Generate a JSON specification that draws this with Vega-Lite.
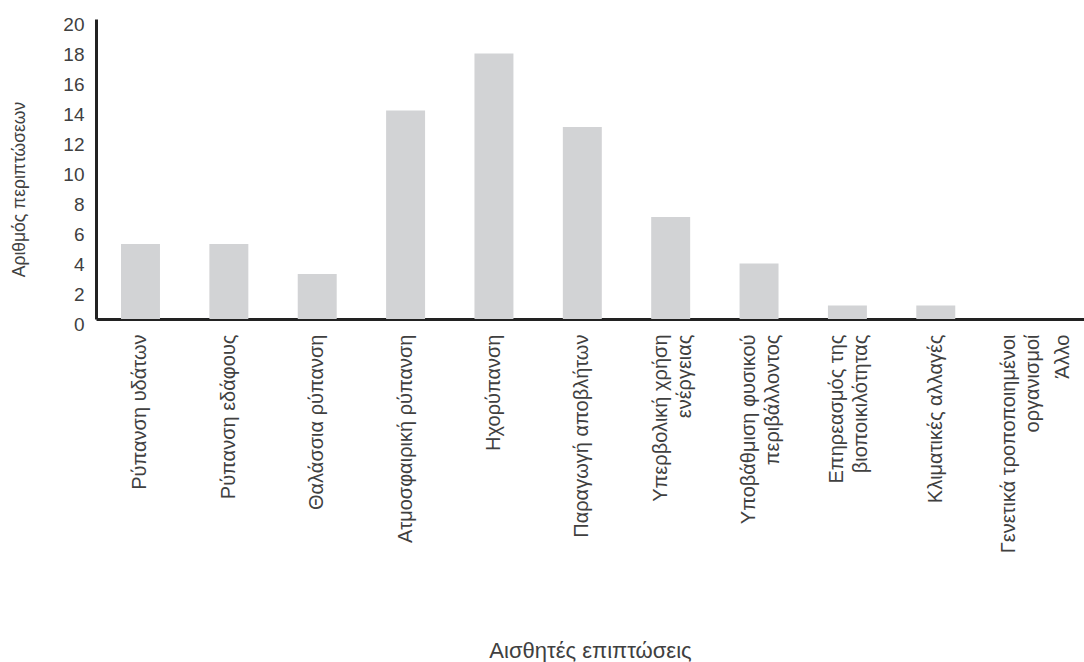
{
  "$schema": "https://vega.github.io/schema/vega-lite/v6.json",
  "autosize": {"type": "none"},
  "padding": {"left": 96, "top": 19, "right": 0, "bottom": 343},
  "width": 1061,
  "height": 300,
  "background": "white",
  "config": {
    "view": {"stroke": null},
    "font": "Liberation Sans"
  },
  "data": {
    "values": [
      {"category": "Ρύπανση υδάτων", "count": 5},
      {"category": "Ρύπανση εδάφους", "count": 5},
      {"category": "Θαλάσσια ρύπανση", "count": 3},
      {"category": "Ατμοσφαιρική ρύπανση", "count": 13.9},
      {"category": "Ηχορύπανση", "count": 17.7},
      {"category": "Παραγωγή αποβλήτων", "count": 12.8},
      {"category": "Υπερβολική χρήση|ενέργειας", "count": 6.8},
      {"category": "Υποβάθμιση φυσικού|περιβάλλοντος", "count": 3.7},
      {"category": "Επηρεασμός της|βιοποικιλότητας", "count": 0.9},
      {"category": "Κλιματικές αλλαγές", "count": 0.9},
      {"category": "Γενετικά τροποποιημένοι|οργανισμοί", "count": 0},
      {"category": "Άλλο", "count": 0}
    ]
  },
  "mark": {"type": "bar", "color": "#d2d3d5"},
  "encoding": {
    "x": {
      "field": "category",
      "type": "nominal",
      "sort": null,
      "scale": {"paddingInner": 0.559, "paddingOuter": 0.283},
      "axis": {
        "title": "Αισθητές επιπτώσεις",
        "titleFontSize": 22,
        "titleFontWeight": "normal",
        "titleColor": "#404040",
        "titleX": 494,
        "titleY": 331,
        "titleBaseline": "middle",
        "titleAlign": "center",
        "labelExpr": "split(datum.label, '|')",
        "labelAngle": -90,
        "labelAlign": "right",
        "labelBaseline": "middle",
        "labelPadding": 15,
        "labelFontSize": 20,
        "labelColor": "#404040",
        "labelLineHeight": 24,
        "labelLimit": 400,
        "labelOverlap": false,
        "labelOffset": {
          "condition": [
            {"test": "datum.value === 'Άλλο'", "value": -50},
            {"test": "indexof(datum.value, 'Γενετικά') >= 0", "value": -15},
            {"test": "indexof(datum.value, '|') >= 0", "value": -10}
          ],
          "value": 0
        },
        "ticks": false,
        "domainColor": "#222222",
        "domainWidth": 3
      }
    },
    "y": {
      "field": "count",
      "type": "quantitative",
      "scale": {"domain": [0, 20], "nice": false},
      "axis": {
        "title": "Αριθμός περιπτώσεων",
        "titleFontSize": 17.5,
        "titleFontWeight": "normal",
        "titleColor": "#404040",
        "titlePadding": 34,
        "titleY": 170,
        "titleAlign": "center",
        "values": [0, 2, 4, 6, 8, 10, 12, 14, 16, 18, 20],
        "labelFontSize": 19,
        "labelColor": "#404040",
        "labelPadding": 12,
        "labelOffset": 5,
        "ticks": false,
        "grid": false,
        "domainColor": "#222222",
        "domainWidth": 3
      }
    }
  }
}
